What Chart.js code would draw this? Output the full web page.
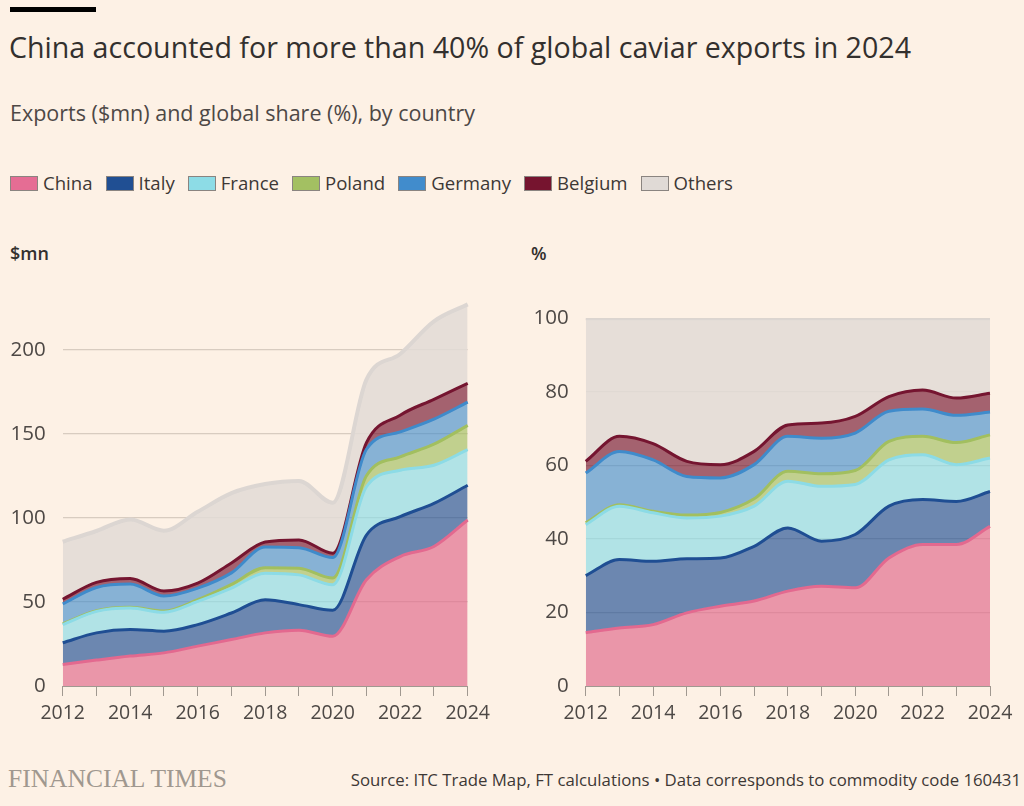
<!DOCTYPE html>
<html>
<head>
<meta charset="utf-8">
<script src="https://cdn.jsdelivr.net/npm/chart.js@4"></script>
<style>
  html,body{margin:0;padding:0;}
  body{width:1024px;height:806px;background:#fdf1e5;position:relative;overflow:hidden;font-family:"Open Sans",sans-serif;color:#33302e;}
  .abs{position:absolute;white-space:nowrap;line-height:1;}
  #bar{position:absolute;left:10px;top:7px;width:86px;height:5px;background:#000;}
  #title{left:9px;top:33px;font-size:28.6px;color:#33302e;}
  #subtitle{left:10px;top:102px;font-size:21.5px;color:#4d4845;}
  #legend{left:10px;top:174px;font-size:18.6px;color:#3d3835;display:flex;align-items:center;}
  #legend .item{display:flex;align-items:center;margin-right:13px;}
  #legend .sw{width:26px;height:13px;border:1px solid #8a8480;margin-right:5px;}
  .unit{top:244px;font-size:18px;color:#33302e;font-weight:600;}
  #ft{left:8px;top:766px;font-family:"Liberation Serif","DejaVu Serif",serif;font-size:25.5px;color:#a0988f;letter-spacing:0;}
  #source{right:3px;top:772px;font-size:16.8px;color:#3d3835;}
  canvas{position:absolute;}
</style>
</head>
<body>
<div id="bar"></div>
<div id="title" class="abs">China accounted for more than 40% of global caviar exports in 2024</div>
<div id="subtitle" class="abs">Exports ($mn) and global share (%), by country</div>
<div id="legend" class="abs"></div>
<div class="abs unit" style="left:10px;">$mn</div>
<div class="abs unit" style="left:531px;">%</div>
<div style="position:absolute;left:0;top:270px;width:500px;height:470px;"><canvas id="c1"></canvas></div>
<div style="position:absolute;left:520px;top:280px;width:504px;height:460px;"><canvas id="c2"></canvas></div>
<div id="ft" class="abs">FINANCIAL TIMES</div>
<div id="source" class="abs">Source: ITC Trade Map, FT calculations • Data corresponds to commodity code 160431</div>
<script>
// ---- Data ----
const years = ['2012','2013','2014','2015','2016','2017','2018','2019','2020','2021','2022','2023','2024'];
const seriesNames = ['China','Italy','France','Poland','Germany','Belgium','Others'];

// Exports, $mn
const chinaMn   = [12.8,15.4,17.8,19.7,23.7,27.6,31.6,33.2,29.6,63.2,77.0,83.0,98.7];
const italyMn   = [12.9,16.2,15.8,12.9,12.8,15.8,19.7,15.2,15.4,26.6,23.7,25.6,20.7];
const franceMn  = [10.8,12.8,12.8,11.2,13.8,14.8,15.8,17.7,15.2,28.7,27.6,22.7,21.2];
const polandMn  = [0.5,0.4,0.4,0.8,1.0,2.2,3.3,4.0,4.0,6.5,8.0,12.5,14.4];
const germanyMn = [11.8,13.8,13.8,8.9,6.9,6.9,12.2,12.2,12.2,15.8,14.8,14.9,13.8];
const belgiumMn = [2.8,3.0,3.3,3.0,3.0,5.9,3.0,4.6,2.6,3.9,10.0,11.8,11.2];
const othersMn  = [34.2,30.6,35.2,35.9,42.4,41.5,34.5,35.1,30.0,37.5,36.4,46.4,47.0];

// Global share, %
const chinaPct   = [14.5,15.8,16.7,19.9,21.7,23.1,25.8,27.1,26.7,34.8,38.5,38.5,43.4];
const italyPct   = [15.5,18.6,17.2,14.7,13.1,14.9,17.2,12.3,14.5,14.1,12.2,11.7,9.5];
const francePct  = [13.9,14.5,13.2,11.1,11.4,10.9,12.7,14.9,13.6,12.6,12.2,10.0,9.1];
const polandPct  = [0.5,0.4,0.4,0.8,1.0,2.0,2.7,3.4,3.8,5.0,5.0,6.0,6.3];
const germanyPct = [13.5,14.5,14.0,10.5,9.4,9.3,9.5,9.7,10.2,8.2,7.4,7.4,6.2];
const belgiumPct = [3.2,4.1,4.4,4.1,3.6,3.6,3.1,4.1,4.5,4.0,5.2,4.7,5.1];
const othersPct  = [38.9,32.1,34.1,38.9,39.8,36.2,29.0,28.5,26.7,21.3,19.5,21.7,20.4];

const mnTicks = [0,50,100,150,200];
const pctTicks = [0,20,40,60,80,100];

// ---- Styles ----
const lineColors = ['#e3698f','#1f4e93','#8cdbe6','#a2bf5f','#3f8bcb','#751530','#dcd6d2'];
const fillColors = ['rgba(224,106,140,0.68)','rgba(31,78,147,0.65)','rgba(140,219,230,0.68)','rgba(162,191,95,0.65)','rgba(63,139,203,0.62)','rgba(117,21,48,0.65)','rgba(226,218,214,0.85)'];
const legendColors = ['#e56d94','#204f93','#8ddce6','#a3c062','#418ccc','#76142f','#e0dad6'];

// legend
const lg = document.getElementById('legend');
seriesNames.forEach((n,i)=>{
  const it = document.createElement('div'); it.className='item';
  const sw = document.createElement('div'); sw.className='sw'; sw.style.background = legendColors[i];
  const tx = document.createElement('span'); tx.textContent = n;
  it.appendChild(sw); it.appendChild(tx); lg.appendChild(it);
});

function makeDatasets(arrs){
  return arrs.map((d,i)=>({
    label: seriesNames[i],
    data: d,
    borderColor: lineColors[i],
    backgroundColor: fillColors[i],
    borderWidth: i===6 ? 4 : 3,
    fill: i===0 ? 'origin' : '-1',
    pointRadius: 0,
    cubicInterpolationMode: 'monotone'
  }));
}

const xFont = {family:'"Open Sans", sans-serif', size:19.5};
const yFont = {family:'"Open Sans", sans-serif', size:20.5};
const tickColor = '#4d4845';

function makeChart(id, arrs, max, tickVals, yWidth, pad){
  return new Chart(document.getElementById(id), {
    type:'line',
    data:{labels:years, datasets:makeDatasets(arrs)},
    options:{
      responsive:true, maintainAspectRatio:false, animation:false,
      layout:{padding:pad},
      plugins:{legend:{display:false}, tooltip:{enabled:false}},
      scales:{
        x:{
          offset:false,
          grid:{display:true, drawOnChartArea:false, drawTicks:true, tickLength:10, color:'#a09890', lineWidth:1},
          border:{display:true, color:'#a09890', width:1},
          ticks:{autoSkip:false, maxRotation:0, font:xFont, color:tickColor, padding:6,
                 callback:(v,i)=> i%2===0 ? years[i] : ''},
          afterFit:s=>{s.height = 54;}
        },
        y:{
          stacked:true, min:0, max:max,
          afterBuildTicks:s=>{ s.ticks = tickVals.map(v=>({value:v})); },
          grid:{drawTicks:false, color:ctx=> ctx.tick && ctx.tick.value===0 ? 'rgba(0,0,0,0)' : '#d8ccc0', lineWidth:1.2},
          border:{display:false},
          ticks:{font:yFont, color:tickColor, padding:17},
          afterFit:s=>{s.width = yWidth;}
        }
      }
    }
  });
}

makeChart('c1', [chinaMn,italyMn,franceMn,polandMn,germanyMn,belgiumMn,othersMn], 230, mnTicks, 62.7, {top:28.5,right:32.3,left:0,bottom:0});
makeChart('c2', [chinaPct,italyPct,francePct,polandPct,germanyPct,belgiumPct,othersPct], 100, pctTicks, 65.7, {top:38.3,right:34,left:0,bottom:0});
</script>
</body>
</html>
